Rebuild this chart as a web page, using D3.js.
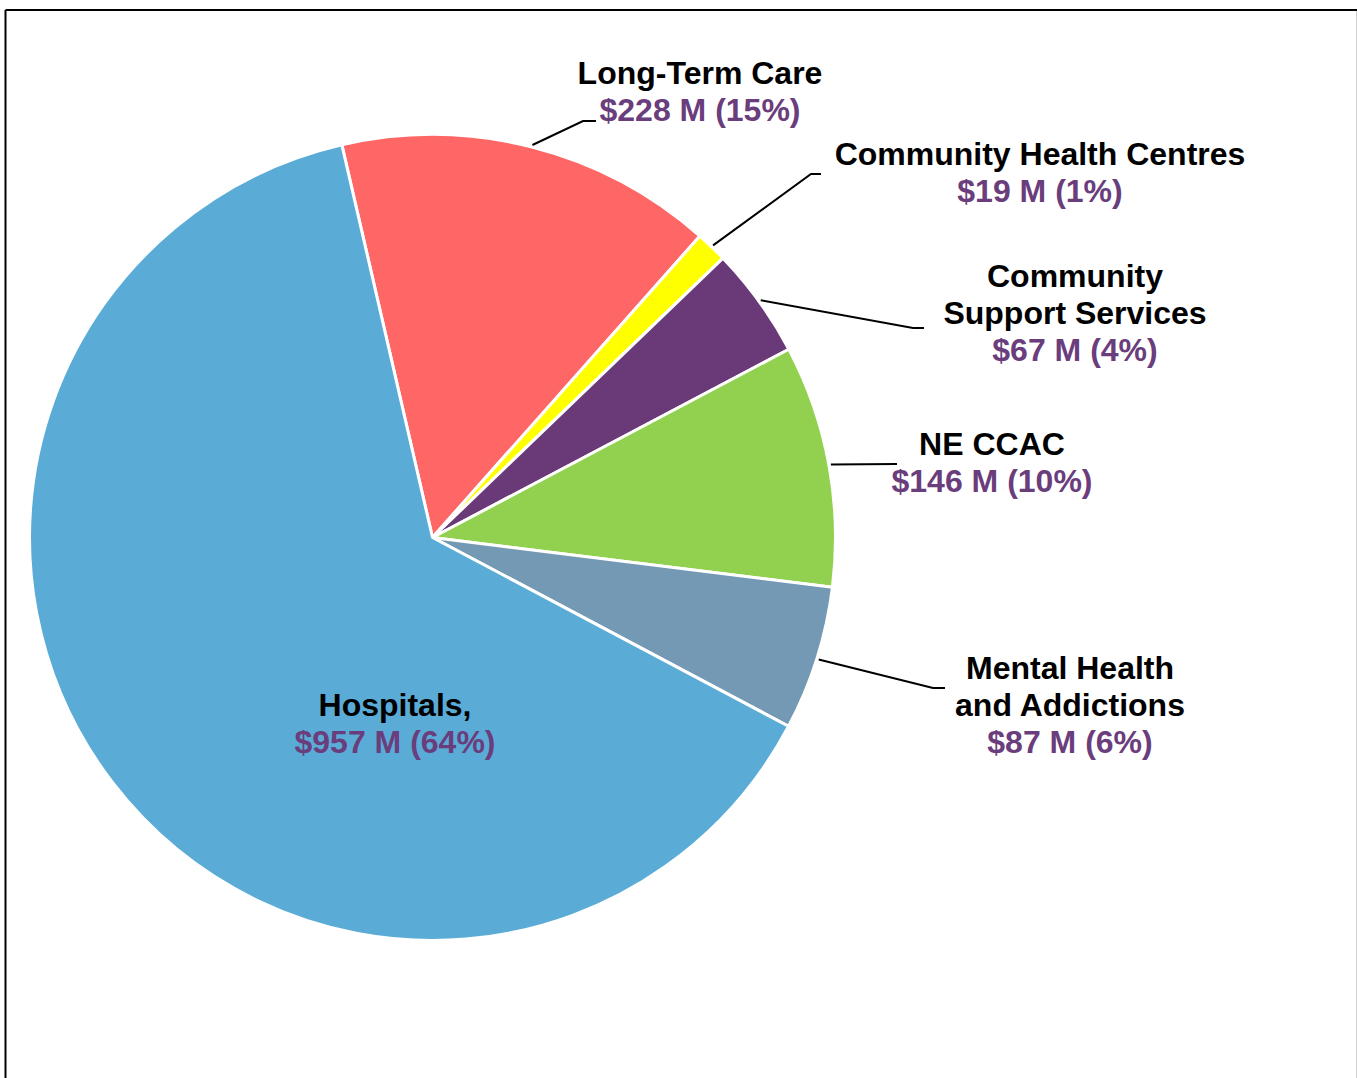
<!DOCTYPE html>
<html>
<head>
<meta charset="utf-8">
<script src="https://cdn.jsdelivr.net/npm/d3@7"></script>
<style>
body { margin: 0; background: #fff; }
text { font-family: Arial, "Liberation Sans", sans-serif; font-weight: bold; font-size: 32px; }
</style>
</head>
<body>
<script>
// data
var categories = ['Long-Term Care', 'Community Health Centres', 'Community Support Services', 'NE CCAC', 'Mental Health and Addictions', 'Hospitals']
var nameLines = [['Long-Term Care'], ['Community Health Centres'], ['Community', 'Support Services'], ['NE CCAC'], ['Mental Health', 'and Addictions'], ['Hospitals,']]
var values = [228, 19, 67, 146, 87, 957]   // $ millions
var colors = ['#FF6666', '#FFFF00', '#6A3977', '#92D14F', '#7399B4', '#5AACD7']

// label layout (centre x, first baseline y), leader elbow + end
var labelX = [700, 1040, 1075, 992, 1070, 395]
var labelY = [84, 165, 287, 455, 679, 716]
var elbow = [[583, 121, 596], [811, 174, 821], [913, 328, 924], [897, 464, 897], [933, 688, 945], null]

var cx = 432.5, cy = 537.5, r = 403
var total = d3.sum(values)

var svg = d3.select('body').append('svg')
  .attr('width', 1357)
  .attr('height', 1078)

// frame (cropped chart border)
svg.append('line').attr('x1', 5.5).attr('y1', 10).attr('x2', 5.5).attr('y2', 1078)
  .attr('stroke', '#000').attr('stroke-width', 2)
svg.append('line').attr('x1', 5.5).attr('y1', 10).attr('x2', 1357).attr('y2', 10)
  .attr('stroke', '#000').attr('stroke-width', 2)
svg.append('line').attr('x1', 1356.5).attr('y1', 11).attr('x2', 1356.5).attr('y2', 1078)
  .attr('stroke', '#d0d0d0').attr('stroke-width', 1)

var startA = -13 * Math.PI / 180
var pie = d3.pie().sort(null).value(function(d){ return d })
  .startAngle(startA).endAngle(startA + 2 * Math.PI)
var arcs = pie(values)

var arc = d3.arc().innerRadius(0).outerRadius(r)
var edge = d3.arc().innerRadius(r + 2).outerRadius(r + 2)

var g = svg.append('g').attr('transform', 'translate(' + cx + ',' + cy + ')')

g.selectAll('path')
  .data(arcs)
  .enter().append('path')
  .attr('d', arc)
  .attr('fill', function(d, i){ return colors[i] })
  .attr('stroke', '#fff')
  .attr('stroke-width', 3)
  .attr('stroke-linejoin', 'round')

// leader lines
arcs.forEach(function(d, i){
  if (!elbow[i]) return
  var p = edge.centroid(d)
  var e = elbow[i]
  svg.append('polyline')
    .attr('points', [[cx + p[0], cy + p[1]], [e[0], e[1]], [e[2], e[1]]].map(function(q){ return q.join(',') }).join(' '))
    .attr('fill', 'none')
    .attr('stroke', '#000')
    .attr('stroke-width', 2)
})

// labels
arcs.forEach(function(d, i){
  var t = svg.append('text')
    .attr('text-anchor', 'middle')
  nameLines[i].forEach(function(s, k){
    t.append('tspan')
      .attr('x', labelX[i])
      .attr('y', labelY[i] + k * 37)
      .attr('fill', '#000')
      .text(s)
  })
  t.append('tspan')
    .attr('x', labelX[i])
    .attr('y', labelY[i] + nameLines[i].length * 37)
    .attr('fill', '#6A3D7C')
    .text('$' + values[i] + ' M (' + Math.round(values[i] / total * 100) + '%)')
})
</script>
</body>
</html>
